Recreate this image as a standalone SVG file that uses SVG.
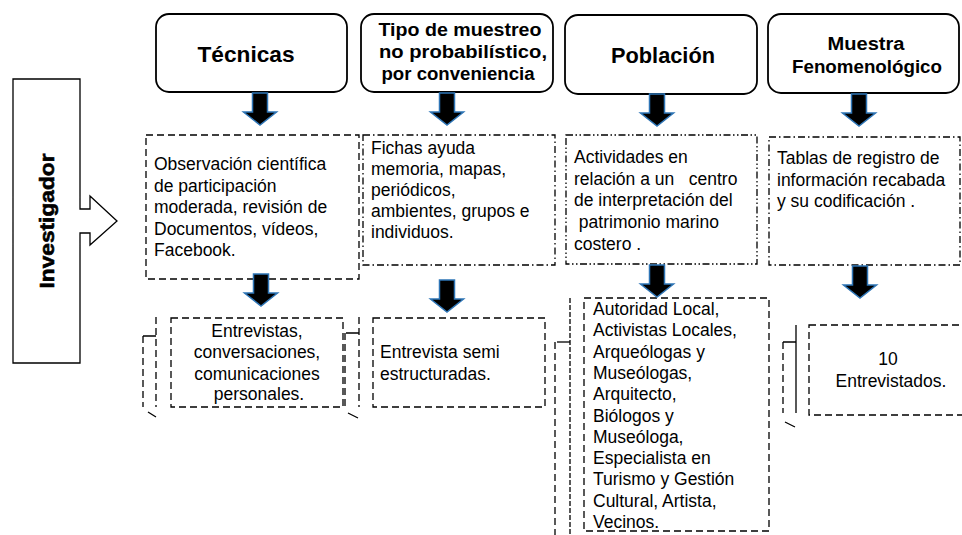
<svg xmlns="http://www.w3.org/2000/svg" xmlns:xlink="http://www.w3.org/1999/xlink" width="962" height="535" viewBox="0 0 962 535">
<style>
.hdr{fill:#fff;stroke:#000;stroke-width:1.8}
.ht{font-family:"Liberation Sans",Arial,sans-serif;font-weight:bold;fill:#000;text-anchor:middle}
.t{font-family:"Liberation Sans",Arial,sans-serif;font-size:17.5px;fill:#000;white-space:pre}
.c{text-anchor:middle}
.dash{fill:none;stroke:#000;stroke-width:1.3;stroke-dasharray:7 4}
.dd{fill:none;stroke:#000;stroke-width:1.3;stroke-dasharray:7 3 1.5 3}
.ddd{fill:none;stroke:#000;stroke-width:1.3;stroke-dasharray:7 2.5 1.5 2.5 1.5 2.5}
.ln{fill:none;stroke:#000;stroke-width:1.3}
.arr{fill:#000;stroke:#2e75b6;stroke-width:1.5}
</style>
<defs>
<path id="ar" class="arr" d="M-7.5,0 H7.5 V19 H16.5 L0,32 L-16.5,19 H-7.5 Z"/>
</defs>

<g id="investigador">
<path d="M13,79 H80 V209 H90 V196 L117,221 L90,245 V233 H80 V363 H13 Z" fill="#fff" stroke="#000" stroke-width="1.3"/>
<text class="ht" x="0" y="0" font-size="21" transform="translate(54,221) rotate(-90)" textLength="135" lengthAdjust="spacingAndGlyphs" stroke="#000" stroke-width="0.6">Investigador</text>
</g>

<g id="tecnicas">
<rect class="hdr" x="156" y="14" width="191" height="78" rx="13"/>
<text class="ht" x="246" y="62" font-size="22" textLength="97" lengthAdjust="spacingAndGlyphs">Técnicas</text>
</g>
<g id="tipo-muestreo">
<rect class="hdr" x="361" y="14" width="192" height="78" rx="13"/>
<text class="ht" x="460" y="36" font-size="18" textLength="163" lengthAdjust="spacingAndGlyphs">Tipo de muestreo</text>
<text class="ht" x="463" y="58" font-size="18" textLength="168" lengthAdjust="spacingAndGlyphs">no probabilístico,</text>
<text class="ht" x="458" y="80" font-size="18" textLength="153" lengthAdjust="spacingAndGlyphs">por conveniencia</text>
</g>
<g id="poblacion">
<rect class="hdr" x="565" y="15" width="192" height="79" rx="13"/>
<text class="ht" x="663" y="63" font-size="22" textLength="104" lengthAdjust="spacingAndGlyphs">Población</text>
</g>
<g id="muestra">
<rect class="hdr" x="768" y="14" width="191" height="79" rx="13"/>
<text class="ht" x="866" y="50" font-size="18" textLength="77" lengthAdjust="spacingAndGlyphs">Muestra</text>
<text class="ht" x="867" y="73" font-size="18" textLength="150" lengthAdjust="spacingAndGlyphs">Fenomenológico</text>
</g>

<g id="observacion">
<rect class="dash" x="146" y="135" width="213" height="144"/>
<text class="t" x="154" y="170">Observación científica</text>
<text class="t" x="154" y="191.5">de participación</text>
<text class="t" x="154" y="213">moderada, revisión de</text>
<text class="t" x="154" y="234.5">Documentos, vídeos,</text>
<text class="t" x="154" y="256">Facebook.</text>
</g>
<g id="fichas">
<rect class="dd" x="363" y="135" width="192" height="130"/>
<text class="t" x="371" y="153.5">Fichas ayuda</text>
<text class="t" x="371" y="174.6">memoria, mapas,</text>
<text class="t" x="371" y="195.8">periódicos,</text>
<text class="t" x="371" y="216.9">ambientes, grupos e</text>
<text class="t" x="371" y="238">individuos.</text>
</g>
<g id="actividades">
<rect class="ddd" x="566" y="135" width="191" height="129"/>
<text class="t" x="574" y="163">Actividades en</text>
<text class="t" x="574" y="184.6">relación a un   centro</text>
<text class="t" x="574" y="206.2">de interpretación del</text>
<text class="t" x="574" y="227.9"> patrimonio marino</text>
<text class="t" x="574" y="249.5">costero .</text>
</g>
<g id="tablas">
<rect class="dd" x="769" y="137" width="191" height="128"/>
<text class="t" x="777" y="164">Tablas de registro de</text>
<text class="t" x="777" y="185.5">información recabada</text>
<text class="t" x="777" y="207">y su codificación .</text>
</g>

<g id="entrevistas">
<path class="dash" d="M143,336 V407 M156,317 V407 M345,333 V407"/>
<path class="ln" d="M143,336 H156 M148,412 L156,417"/>
<rect class="dash" x="171" y="318" width="172" height="89"/>
<text class="t c" x="257" y="337">Entrevistas,</text>
<text class="t c" x="257" y="358">conversaciones,</text>
<text class="t c" x="257" y="379.5">comunicaciones</text>
<text class="t c" x="259" y="400">personales.</text>
</g>
<g id="entrevista-semi">
<path class="dash" d="M359,317 V407"/>
<path class="ln" d="M346,333 H359 M348,413 L358,418"/>
<rect class="dash" x="373" y="318" width="172" height="89"/>
<text class="t" x="380" y="358">Entrevista semi</text>
<text class="t" x="380" y="380">estructuradas.</text>
</g>
<g id="autoridades">
<path class="dash" d="M555,342 V535"/>
<path class="ln" d="M570,298 V535" stroke-dasharray="5 2"/>
<path class="ln" d="M557,342 H570"/>
<rect class="dash" x="584" y="298" width="185" height="233"/>
<text class="t" x="593" y="315">Autoridad Local,</text>
<text class="t" x="593" y="336.3">Activistas Locales,</text>
<text class="t" x="593" y="357.6">Arqueólogas y</text>
<text class="t" x="593" y="378.9">Museólogas,</text>
<text class="t" x="593" y="400.2">Arquitecto,</text>
<text class="t" x="593" y="421.5">Biólogos y</text>
<text class="t" x="593" y="442.8">Museóloga,</text>
<text class="t" x="593" y="464.1">Especialista en</text>
<text class="t" x="593" y="485.4">Turismo y Gestión</text>
<text class="t" x="593" y="506.7">Cultural, Artista,</text>
<text class="t" x="593" y="528">Vecinos.</text>
</g>
<g id="entrevistados">
<path class="dash" d="M783,342 V413"/>
<path class="ln" d="M796,325 V413 M783,342 H796 M785,422 L795,427"/>
<rect class="dash" x="809" y="325" width="170" height="90"/>
<text class="t c" x="888" y="365">10</text>
<text class="t c" x="891" y="387">Entrevistados.</text>
</g>

<g id="connectors">
<use xlink:href="#ar" transform="translate(260,93)"/>
<use xlink:href="#ar" transform="translate(447,93)"/>
<use xlink:href="#ar" transform="translate(657,94)"/>
<use xlink:href="#ar" transform="translate(859,94)"/>
<use xlink:href="#ar" transform="translate(261,274)"/>
<use xlink:href="#ar" transform="translate(447,280)"/>
<use xlink:href="#ar" transform="translate(657,265)"/>
<use xlink:href="#ar" transform="translate(860,266)"/>
</g>
</svg>
